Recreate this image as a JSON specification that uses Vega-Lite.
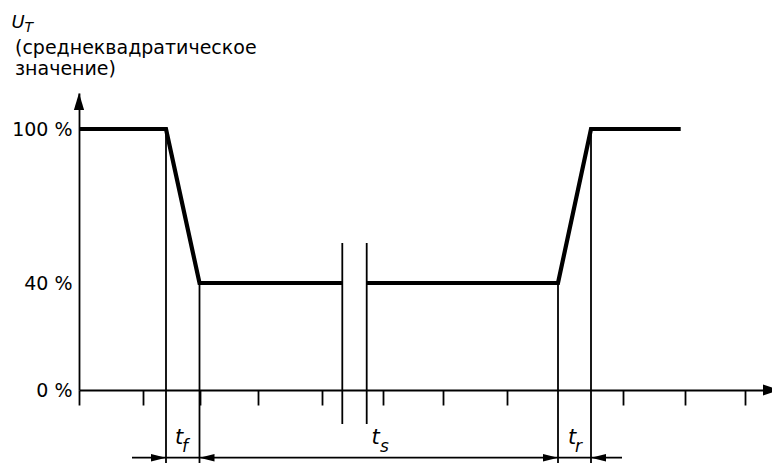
{
  "$schema": "https://vega.github.io/schema/vega-lite/v6.json",
  "width": 693,
  "height": 297,
  "padding": {"left": 79, "top": 93, "right": 0, "bottom": 73},
  "autosize": {"type": "none"},
  "background": "white",
  "config": {"view": {"stroke": null}, "font": "DejaVu Sans"},
  "datasets": {
    "wave": [
      {"x": 0, "y": 100, "seg": "a"}, {"x": 8.7, "y": 100, "seg": "a"}, {"x": 12.05, "y": 40, "seg": "a"}, {"x": 26.33, "y": 40, "seg": "a"},
      {"x": 28.77, "y": 40, "seg": "b"}, {"x": 47.9, "y": 40, "seg": "b"}, {"x": 51.2, "y": 100, "seg": "b"}, {"x": 60.17, "y": 100, "seg": "b"}
    ],
    "guides": [
      {"x": 8.7, "y": 100, "y2": -27.01}, {"x": 12.05, "y": 40, "y2": -27.01},
      {"x": 47.9, "y": 40, "y2": -27.01}, {"x": 51.2, "y": 100, "y2": -27.01},
      {"x": 26.33, "y": 55.44, "y2": -12.32}, {"x": 28.77, "y": 55.44, "y2": -12.32}
    ],
    "dim": [{"x": 5.3, "x2": 54.3, "y": -24.99}],
    "yArrow": [{"x": 0, "y": 114.2}],
    "xArrow": [{"x": 70.1, "y": 0}],
    "dimR": [{"x": 8.7, "y": -24.99}, {"x": 47.9, "y": -24.99}],
    "dimL": [{"x": 12.05, "y": -24.99}, {"x": 51.2, "y": -24.99}],
    "caption": [{"x": -6.4, "y": 129.64, "text": "(среднеквадратическое"}, {"x": -6.4, "y": 121.32, "text": "значение)"}],
    "uMain": [{"x": -6.75, "y": 139.96, "text": "U"}],
    "uSub": [{"x": -5.45, "y": 138.36, "text": "T"}],
    "tMain": [{"x": 9.6, "y": -19.81, "text": "t"}, {"x": 29.25, "y": -19.81, "text": "t"}, {"x": 48.9, "y": -19.81, "text": "t"}],
    "tSub": [{"x": 10.3, "y": -22.83, "text": "f"}, {"x": 30.1, "y": -22.83, "text": "s"}, {"x": 49.6, "y": -22.83, "text": "r"}]
  },
  "encoding": {
    "x": {
      "field": "x", "type": "quantitative",
      "scale": {"domain": [0, 69.3], "nice": false, "zero": false},
      "axis": {
        "values": [0, 6.4, 12.05, 17.93, 24.3, 30.4, 36.43, 42.77, 54.4, 60.63, 66.6],
        "labels": false, "title": null, "grid": false,
        "tickSize": 15, "tickColor": "black", "tickWidth": 1.8,
        "domainColor": "black", "domainWidth": 1.8
      }
    },
    "y": {
      "field": "y", "type": "quantitative",
      "scale": {"type": "pow", "exponent": 0.9732, "domain": [0, 114.2], "nice": false, "zero": false},
      "axis": {
        "values": [0, 40, 100], "labelExpr": "datum.value + ' %'",
        "ticks": false, "labelPadding": 7, "labelFontSize": 19, "labelFont": "DejaVu Sans",
        "labelColor": "black", "labelFlush": false, "title": null, "grid": false,
        "domainColor": "black", "domainWidth": 1.8
      }
    }
  },
  "layer": [
    {
      "data": {"name": "guides"},
      "mark": {"type": "rule", "color": "black", "strokeWidth": 1.8, "clip": false},
      "encoding": {"y2": {"field": "y2"}}
    },
    {
      "data": {"name": "dim"},
      "mark": {"type": "rule", "color": "black", "strokeWidth": 1.8, "clip": false},
      "encoding": {"x2": {"field": "x2"}}
    },
    {
      "data": {"name": "wave"},
      "mark": {"type": "line", "color": "black", "strokeWidth": 4.2, "strokeCap": "butt", "strokeJoin": "miter", "clip": false},
      "encoding": {"detail": {"field": "seg", "type": "nominal"}}
    },
    {
      "data": {"name": "yArrow"},
      "mark": {"type": "point", "filled": true, "color": "black", "opacity": 1, "strokeWidth": 0, "size": 1156, "shape": "M0,0L0.3,1L-0.3,1Z", "clip": false}
    },
    {
      "data": {"name": "xArrow"},
      "mark": {"type": "point", "filled": true, "color": "black", "opacity": 1, "strokeWidth": 0, "size": 1156, "shape": "M0,0L-1,-0.32L-1,0.32Z", "clip": false}
    },
    {
      "data": {"name": "dimR"},
      "mark": {"type": "point", "filled": true, "color": "black", "opacity": 1, "strokeWidth": 0, "size": 900, "shape": "M0,0L-1,-0.25L-1,0.25Z", "clip": false}
    },
    {
      "data": {"name": "dimL"},
      "mark": {"type": "point", "filled": true, "color": "black", "opacity": 1, "strokeWidth": 0, "size": 900, "shape": "M0,0L1,-0.25L1,0.25Z", "clip": false}
    },
    {
      "data": {"name": "caption"},
      "mark": {"type": "text", "align": "left", "baseline": "alphabetic", "font": "DejaVu Sans", "fontSize": 19, "color": "black", "clip": false},
      "encoding": {"text": {"field": "text"}}
    },
    {
      "data": {"name": "uMain"},
      "mark": {"type": "text", "align": "left", "baseline": "alphabetic", "font": "DejaVu Sans", "fontStyle": "italic", "fontSize": 18, "color": "black", "clip": false},
      "encoding": {"text": {"field": "text"}}
    },
    {
      "data": {"name": "uSub"},
      "mark": {"type": "text", "align": "left", "baseline": "alphabetic", "font": "DejaVu Sans", "fontStyle": "italic", "fontSize": 14, "color": "black", "clip": false},
      "encoding": {"text": {"field": "text"}}
    },
    {
      "data": {"name": "tMain"},
      "mark": {"type": "text", "align": "left", "baseline": "alphabetic", "font": "DejaVu Sans", "fontStyle": "italic", "fontSize": 21, "color": "black", "clip": false},
      "encoding": {"text": {"field": "text"}}
    },
    {
      "data": {"name": "tSub"},
      "mark": {"type": "text", "align": "left", "baseline": "alphabetic", "font": "DejaVu Sans", "fontStyle": "italic", "fontSize": 17, "color": "black", "clip": false},
      "encoding": {"text": {"field": "text"}}
    }
  ]
}
